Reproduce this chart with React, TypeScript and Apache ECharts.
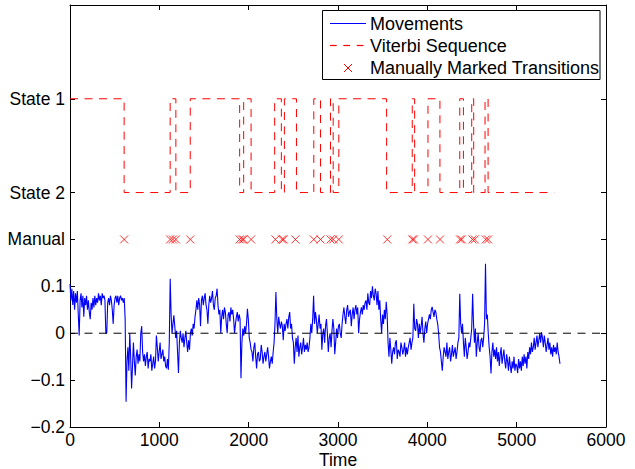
import React, { useEffect, useRef } from "react";
import * as echarts from "echarts";

// ---- Data ----
const MOVEMENT_DT = 10.29; // time between movement samples
const MOVEMENT_VALUES = [
  // t 0 - 600
  0.105, 0.07, 0.095, 0.06, 0.09, 0.05, 0.085, 0.065, 0.09, 0.04,
  -0.005, 0.07, 0.085, 0.055, 0.08, 0.035, 0.075, 0.06, 0.08, 0.05,
  0.07, 0.045, 0.03, 0.065, 0.05, 0.075, 0.055, 0.08, 0.06, 0.075,
  0.065, 0.085, 0.07, 0.08, 0.06, 0.085, 0.075, 0.08, 0.07, 0.0,
  0.0, 0.065, 0.075, 0.06, 0.08, 0.07, 0.05, 0.02, 0.06, 0.075,
  0.08, 0.065, 0.08, 0.06, 0.075, 0.08, 0.07, 0.075, 0.065, 0.075,
  // t 600 - 1100
  0.03, -0.146, -0.06, -0.03, -0.08, 0.0, -0.05, -0.118, -0.07, -0.02,
  -0.06, -0.09, -0.05, -0.035, -0.065, -0.045, -0.06, 0.0, 0.015, -0.04,
  -0.06, -0.045, -0.07, -0.05, -0.04, -0.075, -0.055, -0.06, -0.045, -0.08,
  -0.065, -0.05, -0.075, -0.06, -0.005, -0.03, -0.06, -0.04, -0.02, -0.055,
  -0.045, -0.035, -0.06, -0.05, -0.07, -0.075, -0.055, -0.078,
  // t 1100 - 1420
  -0.02, 0.116, 0.04, 0.0, 0.02, 0.038, 0.015, -0.01, 0.005, -0.04,
  -0.085, -0.02, 0.005, -0.01, -0.02, 0.0, -0.03, -0.01, 0.005, -0.02,
  -0.04, -0.015, -0.035, 0.0, 0.01, -0.005, 0.02, 0.01, 0.035, 0.05,
  0.07,
  // t 1420 - 1900
  0.05, 0.075, 0.06, 0.015, 0.07, 0.08, 0.06, 0.075, 0.085, 0.06,
  0.05, 0.02, 0.06, 0.08, 0.065, 0.075, 0.09, 0.06, 0.05, 0.075,
  0.08, 0.095, 0.06, 0.04, 0.05, 0.0, 0.035, 0.05, 0.03, 0.055,
  0.045, 0.02, 0.0, 0.04, 0.045, 0.025, 0.055, 0.04, 0.05, 0.03,
  0.0, 0.02, 0.035, 0.045, 0.025, 0.04, 0.03,
  // t 1900 - 2040
  -0.096, -0.02, 0.01, -0.005, 0.015, 0.0, 0.02, 0.052, 0.03, -0.01, -0.02, -0.035,
  // t 2040 - 2300
  -0.04, -0.06, -0.03, -0.02, -0.05, -0.075, -0.045, -0.04, -0.06, -0.055,
  -0.025, -0.04, -0.065, -0.05, -0.04, -0.06, -0.045, -0.03, -0.05, -0.075,
  -0.06, -0.05, -0.065, -0.04, -0.02,
  0.02, 0.088,
  // t 2310 - 2710
  0.03, 0.0, 0.035, 0.02, 0.01, 0.025, 0.015, -0.015, 0.02, 0.005,
  0.02, 0.03, 0.01, 0.035, 0.045, 0.01, 0.02, -0.01, -0.02, -0.065,
  -0.03, -0.01, -0.04, -0.005, -0.05, -0.03, -0.02, -0.045, -0.03, -0.01,
  -0.04, -0.025, -0.035, -0.02, -0.04, -0.03, -0.01, 0.02, 0.0,
  0.03, 0.08,
  // t 2730 - 3050
  0.02, 0.045, 0.03, 0.0, 0.02, 0.04, 0.01, 0.02, -0.035, 0.0,
  0.01, -0.02, 0.015, 0.03, 0.0, -0.04, -0.01, 0.0, -0.03, 0.005,
  0.03, 0.01, -0.045, -0.02, 0.01, -0.01, 0.015, 0.02, 0.0, -0.01, 0.02,
  // t 3050 - 3310
  0.04, 0.055, 0.035, 0.02, 0.05, 0.06, 0.035, 0.045, 0.05, 0.015,
  0.04, 0.055, 0.03, 0.05, 0.06, 0.04, 0.055, 0.0, 0.03, 0.045,
  0.055, 0.04, 0.06, 0.05, 0.065,
  // t 3310 - 3480
  0.07, 0.05, 0.085, 0.065, 0.06, 0.09, 0.075, 0.1, 0.08, 0.07,
  0.095, 0.085, 0.06, 0.09, 0.05, 0.07,
  // t 3480 - 3560
  0.03, 0.0, 0.04, 0.02, 0.05, 0.03, 0.067, 0.04,
  // t 3560 - 3870
  -0.02, -0.05, -0.01, -0.035, -0.065, -0.04, -0.03, -0.045, -0.02, -0.015,
  -0.055, -0.035, -0.04, -0.05, -0.02, -0.03, -0.045, -0.035, -0.02, -0.05,
  -0.03, -0.045, -0.03, -0.02, -0.01, -0.035, -0.02, -0.01,
  0.063, 0.01,
  // t 3870 - 4130
  0.005, 0.03, 0.02, -0.01, 0.02, 0.0, 0.015, 0.035, 0.0, -0.02,
  0.01, 0.025, 0.0, 0.02, 0.03, 0.04,
  0.03, 0.05, 0.056, 0.045, 0.035, 0.05, 0.045, 0.03, 0.02, 0.0,
  // t 4130 - 4370
  -0.03, -0.04, -0.06, -0.08, -0.05, -0.03, -0.04, -0.05, -0.02, -0.055,
  -0.04, -0.03, -0.06, -0.045, -0.025, -0.05, -0.04, -0.03, -0.055, -0.04,
  -0.02, -0.01,
  0.084,
  // t 4370 - 4510
  0.02, 0.0, 0.02, -0.02, -0.05, -0.01, -0.03, -0.055, -0.04, -0.02, -0.03, -0.01, 0.01,
  0.084,
  // t 4510 - 4650
  0.02, -0.02, 0.01, -0.05, -0.02, 0.0, -0.03, -0.04, -0.015, -0.01, -0.03, -0.01, 0.02,
  0.148,
  // t 4660 - 5490
  0.03, 0.04, 0.0, -0.03, -0.05, -0.086,
  -0.04, -0.02, -0.05, -0.035, -0.055, -0.03, -0.06, -0.04, -0.07, -0.045,
  -0.03, -0.065, -0.05, -0.035, -0.06, -0.075, -0.045, -0.06, -0.08, -0.05,
  -0.07, -0.085, -0.06, -0.075, -0.05, -0.08, -0.065, -0.07, -0.085, -0.055,
  -0.075, -0.06, -0.08, -0.05, -0.07, -0.045, -0.065, -0.05, -0.075, -0.04,
  -0.055, -0.03, -0.045, -0.02, -0.04, -0.03, -0.01, -0.035, -0.02, -0.005,
  -0.03, -0.015, 0.0, -0.02, 0.002, -0.01, -0.03, -0.005, -0.02, -0.04,
  -0.025, -0.01, -0.035, -0.02, -0.045, -0.03, -0.05, -0.025, -0.04, -0.03,
  -0.045, -0.02, -0.04, -0.05, -0.065,
];

// Viterbi sequence: time at which each state starts (last entry = end of sequence)
const VITERBI_TIMES = [
  0, 606, 1121, 1185, 1346, 1899, 1944, 2027, 2291, 2366, 2400, 2535, 2729, 2804,
  2916, 2946, 3009, 3544, 3831, 3858, 4007, 4141, 4363, 4404, 4497, 4519, 4646, 4680, 5420,
];
const VITERBI_STATES = [
  1, 2, 1, 2, 1, 2, 1, 2, 1, 2, 1, 2, 1, 2,
  1, 2, 1, 2, 1, 2, 1, 2, 1, 2, 1, 2, 1, 2, 2,
];

// Manually marked transitions (times)
const MANUAL_TIMES = [
  606, 1121, 1152, 1185, 1346, 1899, 1926, 1944, 2027, 2299, 2374, 2392, 2523,
  2729, 2804, 2916, 2946, 3009, 3552, 3832, 3850, 4007, 4142, 4366, 4385, 4505,
  4531, 4654, 4680,
];

// Y positions of special rows and tick labels
const STATE_LEVEL: Record<number, number> = { 1: 0.5, 2: 0.3 };
const MANUAL_LEVEL = 0.2;
const Y_TICK_VALUES = [-0.2, -0.1, 0, 0.1, 0.2, 0.3, 0.5];
const Y_TICK_LABELS = ["\u22120.2", "\u22120.1", "0", "0.1", "Manual", "State 2", "State 1"];
const X_MIN = 0;
const X_MAX = 6000;
const X_INTERVAL = 1000;
const LEGEND_NAMES = ["Movements", "Viterbi Sequence", "Manually Marked Transitions"];

const FONT = "'Liberation Sans', Arial, Helvetica, sans-serif";
const FS = 17.5;
const BLUE = "#0000ff";
const RED = "#ff0000";

export default function App() {
  const ref = useRef<HTMLDivElement>(null);

  useEffect(() => {
    if (!ref.current) return;
    const chart = echarts.init(ref.current, undefined, { renderer: "svg" });

    const movementData = MOVEMENT_VALUES.map((v, i) => [i * MOVEMENT_DT, v]);
    const viterbiData = VITERBI_TIMES.map((t, i) => [t, STATE_LEVEL[VITERBI_STATES[i]]]);
    const manualData = MANUAL_TIMES.map((t) => [t, MANUAL_LEVEL]);

    const yLabel = (v: number) => {
      const idx = Y_TICK_VALUES.findIndex((tv) => Math.abs(tv - v) < 1e-6);
      return idx >= 0 ? Y_TICK_LABELS[idx] : "";
    };

    const axisLine = { show: true, onZero: false, lineStyle: { color: "#000", width: 1 } };
    const tick = { show: true, inside: true, length: 5, lineStyle: { color: "#000" } };

    // MATLAB-style legend box
    const LX = 322.5;
    const LY = 10.5;
    const LW = 277.5;
    const LH = 69;
    const rowY = [23.5, 45.5, 68];
    const iconX0 = 330;
    const iconX1 = 366;
    const textX = 370;
    const legendText = (name: string, y: number) => ({
      type: "text",
      z: 101,
      x: textX,
      y,
      style: {
        text: name,
        fontSize: 18,
        fontFamily: FONT,
        fill: "#000",
        verticalAlign: "middle",
        align: "left",
      },
    });
    const dashRect = (x0: number, x1: number, y: number, color: string) => ({
      type: "rect",
      z: 101,
      shape: { x: x0, y: y - 0.6, width: x1 - x0, height: 1.2 },
      style: { fill: color },
    });
    const cx = (iconX0 + iconX1) / 2;
    const cy = rowY[2];
    const half = 4;

    chart.setOption({
      animation: false,
      backgroundColor: "#fff",
      grid: {
        left: 70,
        right: 29,
        top: 5,
        bottom: 42,
        containLabel: false,
        outerBoundsMode: "none",
      },
      graphic: [
        {
          type: "rect",
          z: 100,
          shape: { x: LX, y: LY, width: LW, height: LH },
          style: { fill: "#fff", stroke: "#000", lineWidth: 1 },
        },
        dashRect(iconX0, iconX1, rowY[0], BLUE),
        dashRect(330, 336.7, rowY[1], RED),
        dashRect(343.3, 350, rowY[1], RED),
        dashRect(356.7, 363.4, rowY[1], RED),
        {
          type: "polyline",
          z: 101,
          shape: { points: [[cx - half, cy - half], [cx + half, cy + half]] },
          style: { stroke: RED, fill: null, lineWidth: 1 },
        },
        {
          type: "polyline",
          z: 101,
          shape: { points: [[cx - half, cy + half], [cx + half, cy - half]] },
          style: { stroke: RED, fill: null, lineWidth: 1 },
        },
        legendText(LEGEND_NAMES[0], rowY[0] + 0.5),
        legendText(LEGEND_NAMES[1], rowY[1]),
        legendText(LEGEND_NAMES[2], rowY[2]),
      ],
      xAxis: [
        {
          type: "value",
          min: X_MIN,
          max: X_MAX,
          interval: X_INTERVAL,
          position: "bottom",
          name: "Time",
          nameLocation: "middle",
          nameGap: 24,
          nameMoveOverlap: false,
          nameTextStyle: { fontSize: FS, fontFamily: FONT, color: "#000" },
          axisLine,
          axisTick: tick,
          axisLabel: {
            fontSize: FS,
            fontFamily: FONT,
            color: "#000",
            margin: 4,
            formatter: (v: number) => String(v),
          },
          splitLine: { show: false },
        },
        {
          type: "value",
          min: X_MIN,
          max: X_MAX,
          interval: X_INTERVAL,
          position: "top",
          axisLine,
          axisTick: tick,
          axisLabel: { show: false },
          splitLine: { show: false },
        },
      ],
      yAxis: [
        {
          type: "value",
          min: -0.2,
          max: 0.7,
          position: "left",
          axisLine,
          axisTick: { ...tick, customValues: Y_TICK_VALUES },
          axisLabel: {
            fontSize: FS,
            fontFamily: FONT,
            color: "#000",
            margin: 5,
            customValues: Y_TICK_VALUES,
            formatter: yLabel,
          },
          splitLine: { show: false },
        },
        {
          type: "value",
          min: -0.2,
          max: 0.7,
          position: "right",
          axisLine,
          axisTick: { ...tick, customValues: Y_TICK_VALUES },
          axisLabel: { show: false, customValues: Y_TICK_VALUES },
          splitLine: { show: false },
        },
      ],
      series: [
        {
          name: LEGEND_NAMES[0],
          type: "line",
          data: movementData,
          symbol: "none",
          lineStyle: { color: BLUE, width: 1.1 },
          itemStyle: { color: BLUE },
          z: 2,
        },
        {
          name: "Zero",
          type: "line",
          data: [[X_MIN, 0], [X_MAX, 0]],
          symbol: "none",
          lineStyle: { color: "#000", width: 1, type: [8, 6.5] },
          itemStyle: { color: "#000" },
          z: 3,
        },
        {
          name: LEGEND_NAMES[1],
          type: "line",
          step: "end",
          data: viterbiData,
          symbol: "none",
          lineStyle: { color: RED, width: 1, type: [8, 6.5] },
          itemStyle: { color: RED },
          z: 3,
        },
        {
          name: LEGEND_NAMES[2],
          type: "scatter",
          data: manualData,
          symbol: "path://M0,0L10,10M10,0L0,10",
          symbolSize: 8,
          itemStyle: { color: "rgba(0,0,0,0)", borderColor: RED, borderWidth: 1 },
          z: 4,
        },
      ],
    });

    return () => chart.dispose();
  }, []);

  return (
    <div
      ref={ref}
      style={{ position: "fixed", left: 0, top: 0, width: 635, height: 469, background: "#fff" }}
    />
  );
}
